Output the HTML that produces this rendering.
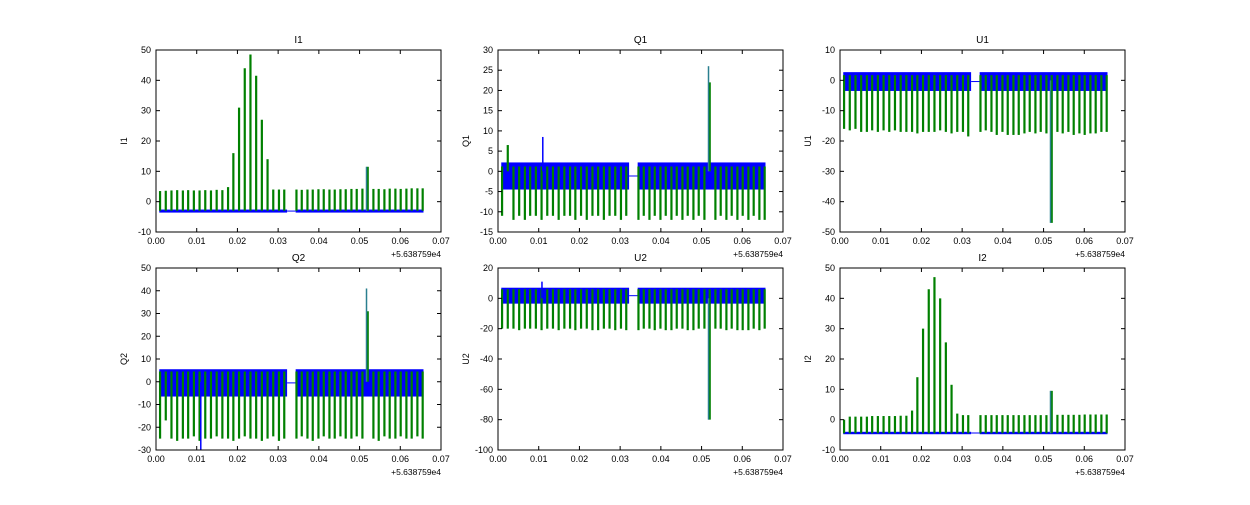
<!DOCTYPE html>
<html><head><meta charset="utf-8"><style>
html,body{margin:0;padding:0;background:#fff;}
svg text{font-family:"Liberation Sans",sans-serif;font-size:9px;fill:#000;}
</style></head><body>
<svg id="fig" width="1250" height="500" viewBox="0 0 1250 500" xmlns="http://www.w3.org/2000/svg"></svg>
<script>
const spikeTimes = [0.0010,0.0024,0.0038,0.0052,0.0066,0.0079,0.0093,0.0107,0.0121,0.0135,0.0149,0.0163,0.0177,0.0190,0.0204,0.0218,0.0232,0.0246,0.0260,0.0274,0.0288,0.0302,0.0315,
 0.0345,0.0358,0.0372,0.0385,0.0399,0.0412,0.0426,0.0439,0.0453,0.0466,0.0480,0.0493,0.0507,0.0520,0.0534,0.0547,0.0561,0.0574,0.0588,0.0601,0.0615,0.0628,0.0642,0.0655];
const segStarts = [0.0008, 0.0343];
const segEnds = [0.0322, 0.0657];
const panelTitles = ["I1","Q1","U1","Q2","U2","I2"];
const yMins = [-10,-15,-50,-30,-100,-10];
const yMaxs = [50,30,10,50,20,50];
const yStepsArr = [10,5,10,10,20,10];
const xTicks = [0,0.01,0.02,0.03,0.04,0.05,0.06,0.07];
const xTickLabels = ["0.00","0.01","0.02","0.03","0.04","0.05","0.06","0.07"];
const spikeBase = [-3,0,0,0,0,-4.5];
const blueLo = [-3.6,-4.5,-3.5,-6.5,-3.5,-4.8];
const blueHi = [-2.6,2.2,2.7,5.5,7,-4];
const greenI1 = [3.5,3.6,3.7,3.8,3.7,3.8,3.7,3.7,3.8,3.7,3.9,3.8,4.8,16,31,44,48.5,41.5,27,14,4,4,4,
 4,3.9,4,4,4.1,4.1,4,4,4.1,4.1,4.2,4.2,4.3,11.5,4.2,4.2,4.1,4.3,4.3,4.2,4.3,4.4,4.4,4.4];
const greenQ1 = [-11,6.5,-12,-11,-12,-11,-11,-12,-11,-11,-12,-11,-11,-12,-11,-12,-11,-11,-12,-11,-11,-12,-11,
 -12,-11,-12,-11,-12,-11,-12,-11,-12,-11,-12,-11,-12,22,-12,-11,-12,-11,-12,-11,-12,-11,-12,-12];
const greenU1 = [-16,-16.5,-16,-17,-17,-16.5,-17,-16.5,-17,-16.5,-17,-17,-17,-17.5,-17,-17,-17,-16.5,-17,-17.5,-17,-17,-18.5,
 -17,-16.5,-17,-18,-17,-18,-18,-18,-17.5,-17,-17.5,-17,-17.5,-47,-17,-17.5,-17,-18,-17.5,-18,-17.5,-17.5,-17,-17];
const greenQ2 = [-25,-17,-25,-26,-25,-25,-24,-26,-25,-25,-24,-25,-25,-26,-25,-24,-25,-25,-26,-25,-24,-26,-25,
 -25,-24,-25,-26,-25,-24,-25,-25,-24,-25,-25,-24,-25,31,-25,-26,-24,-25,-25,-24,-25,-25,-24,-25];
const greenU2 = [-20,-20,-20,-21,-20,-20,-20,-21,-20,-20,-21,-20,-20,-21,-20,-20,-21,-21,-20,-20,-21,-20,-21,
 -21,-20,-20,-21,-20,-21,-21,-20,-20,-21,-21,-20,-20,-80,-20,-20,-21,-20,-21,-21,-21,-20,-21,-20];
const greenI2 = [0,1,1,1,1,1.2,1.2,1.2,1.2,1.2,1.3,1.3,3,14,30,43,47,40,25.5,11.5,2,1.5,1.5,
 1.5,1.5,1.5,1.5,1.5,1.5,1.5,1.5,1.5,1.5,1.5,1.5,1.5,9.5,1.6,1.6,1.6,1.6,1.6,1.7,1.7,1.7,1.7,1.7];
const greenVals = [greenI1,greenQ1,greenU1,greenQ2,greenU2,greenI2];
const blueSpikeT = [null,0.0110,null,0.0110,0.0108,null];
const blueSpikeV = [null,8.5,null,-30,11,null];
const blueBigV = [11.5,26,-47,41,-80,9.5];
const blueBigT = 0.0519;

const svg = document.getElementById('fig');
const NS = "http://www.w3.org/2000/svg";
function mk(tag, attrs, parent){const e=document.createElementNS(NS,tag);for(const k in attrs)e.setAttribute(k,attrs[k]);(parent||svg).appendChild(e);return e;}
const lefts=[156,498,840];const tops=[50,268];const W=285,H=182;

panelTitles.forEach((title,i)=>{
  const x0=lefts[i%3], y0=tops[Math.floor(i/3)];
  const g=mk('g',{});
  
  
  const xs=t=>x0+t/0.07*W;
  const ys=v=>y0+H-(v-yMins[i])/(yMaxs[i]-yMins[i])*H;
  const clipId='c'+i;
  const cp=mk('clipPath',{id:clipId},g);mk('rect',{x:x0,y:y0,width:W,height:H},cp);
  const plot=mk('g',{'clip-path':'url(#'+clipId+')'},g);
  for(let s=0;s<segStarts.length;s++){
    const r=mk('rect',{x:xs(segStarts[s]),y:ys(blueHi[i]),width:xs(segEnds[s])-xs(segStarts[s]),height:Math.max(1.5,ys(blueLo[i])-ys(blueHi[i])),fill:'#0000ff'},plot);
    
    
  }
  const gl=mk('line',{x1:xs(segEnds[0]),x2:xs(segStarts[1]),y1:ys((blueLo[i]+blueHi[i])/2),y2:ys((blueLo[i]+blueHi[i])/2),stroke:'#0000ff','stroke-width':1},plot);
  
  
  spikeTimes.forEach((t,k)=>{
    const v=greenVals[i][k];
    const start = v<spikeBase[i] ? Math.max(blueHi[i]-1,spikeBase[i]) : spikeBase[i];
    const l=mk('line',{x1:xs(t),x2:xs(t),y1:ys(start),y2:ys(v),stroke:'#008000','stroke-width':2.2},plot);
    
    
  });
  const bb=mk('line',{x1:xs(blueBigT)-0.8,x2:xs(blueBigT)-0.8,y1:ys(spikeBase[i]),y2:ys(blueBigV[i]),stroke:'#2a7f8f','stroke-width':1.5},plot);
  
  
  if(blueSpikeT[i]!==null){
    const bs=mk('line',{x1:xs(blueSpikeT[i]),x2:xs(blueSpikeT[i]),y1:ys(spikeBase[i]),y2:ys(blueSpikeV[i]),stroke:'#0000ff','stroke-width':1.5},plot);
    
    
  }
  const fr=mk('rect',{x:x0,y:y0,width:W,height:H,fill:'none',stroke:'#000','stroke-width':1},g);
  
  
  xTicks.forEach((t,k)=>{
    const x=xs(t);
    mk('line',{x1:x,x2:x,y1:y0+H,y2:y0+H-4,stroke:'#000'},g);
    mk('line',{x1:x,x2:x,y1:y0,y2:y0+4,stroke:'#000'},g);
    const tx=mk('text',{x:x,y:y0+H+12,'text-anchor':'middle'},g);tx.textContent=xTickLabels[k];
    
    
  });
  for(let v=yMins[i];v<=yMaxs[i]+1e-9;v+=yStepsArr[i]){
    const y=ys(v);
    mk('line',{x1:x0,x2:x0+4,y1:y,y2:y,stroke:'#000'},g);
    mk('line',{x1:x0+W,x2:x0+W-4,y1:y,y2:y,stroke:'#000'},g);
    const ty=mk('text',{x:x0-5,y:y+3,'text-anchor':'end'},g);ty.textContent=String(v);
    
    
  }
  const ti=mk('text',{x:x0+W/2,y:y0-7,'text-anchor':'middle',style:'font-size:10px'},g);ti.textContent=title;
  
  
  const yl=mk('text',{x:0,y:0,'text-anchor':'middle',transform:'translate('+(x0-29)+','+(y0+H/2)+') rotate(-90)'},g);yl.textContent=title;
  
  
  const off=mk('text',{x:x0+W,y:y0+H+25,'text-anchor':'end',style:'font-size:8.5px'},g);off.textContent='+5.638759e4';
  
  
});
</script>
</body></html>
